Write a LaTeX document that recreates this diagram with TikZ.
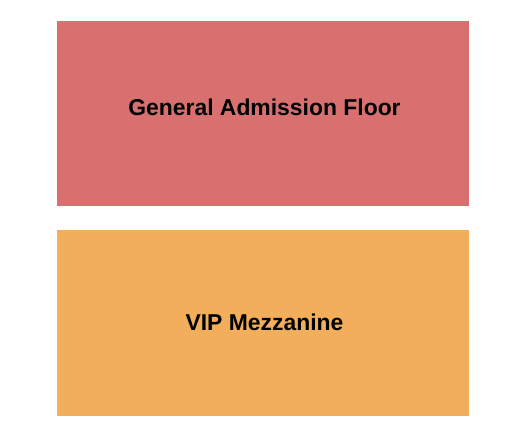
\documentclass[tikz,border=0pt]{standalone}
\usepackage{fontspec}
\setmainfont{Liberation Sans}
\definecolor{garedd}{HTML}{D87070}
\definecolor{viporange}{HTML}{F2AE5A}
\begin{document}
\begin{tikzpicture}[x=1bp,y=-1bp,
  section/.style={draw=none,inner sep=0pt,outer sep=0pt,minimum width=412bp},
  label/.style={font=\fontsize{22.9bp}{26bp}\selectfont\bfseries,text=black,inner sep=0pt}]
\useasboundingbox (0,0) rectangle (525,444);
\fill[white] (0,0) rectangle (525,444);
\node[section,fill=garedd,minimum height=185bp] (gabox) at (263,113.5) {};
\node[section,fill=viporange,minimum height=185.7bp] (vipbox) at (263,322.85) {};
\node[label] (ga) at (264.5,107) {General Admission Floor};
\node[label] (vip) at (264.5,322) {VIP Mezzanine};
\end{tikzpicture}
\end{document}
